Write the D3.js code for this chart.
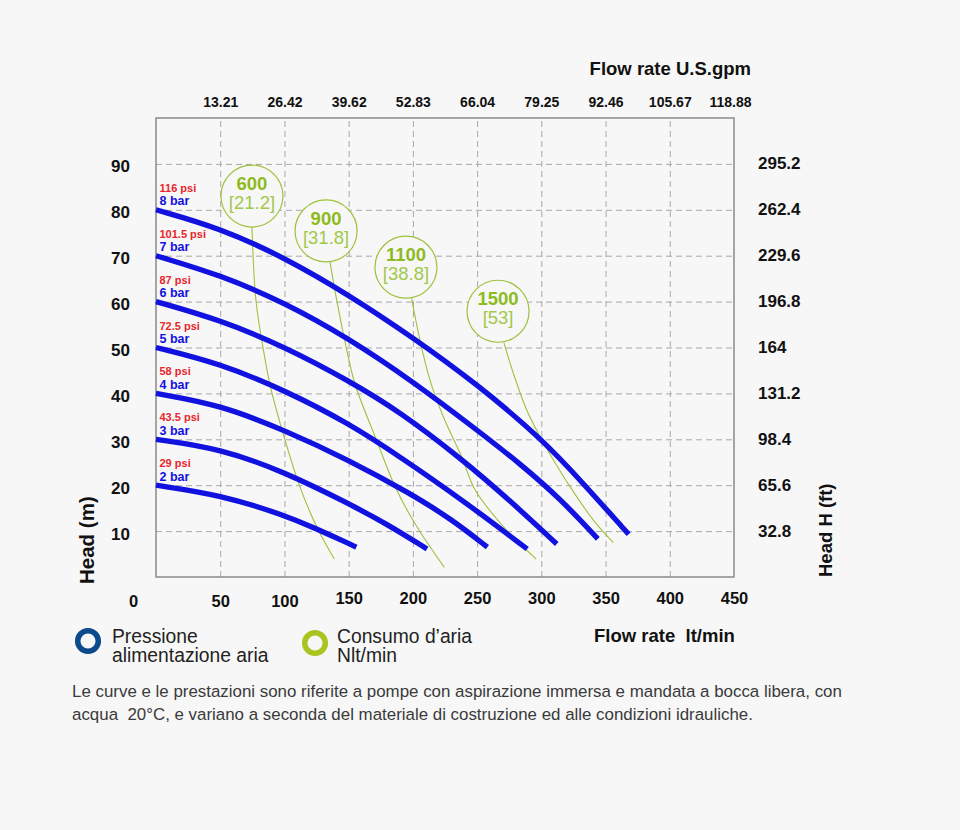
<!DOCTYPE html>
<html>
<head>
<meta charset="utf-8">
<script src="https://cdn.jsdelivr.net/npm/d3@7/dist/d3.min.js"></script>
<style>
  html, body { margin: 0; padding: 0; background: #f7f7f7; }
  svg { display: block; font-family: "Liberation Sans", Arial, Helvetica, sans-serif; }
</style>
</head>
<body>
<svg id="chart" width="960" height="830"></svg>
<script>
// ---------- DATA ----------
const flowTicks = [0, 50, 100, 150, 200, 250, 300, 350, 400, 450];          // lt/min
const gpmTicks = [50, 100, 150, 200, 250, 300, 350, 400, 450];
const gpmLabels = ["13.21", "26.42", "39.62", "52.83", "66.04", "79.25", "92.46", "105.67", "118.88"];
const headTicks = [10, 20, 30, 40, 50, 60, 70, 80, 90];                       // m
const ftLabels = ["32.8", "65.6", "98.4", "131.2", "164", "196.8", "229.6", "262.4", "295.2"];

// Pressure curves [flow lt/min, head m]
const bar8 = [[0,80],[50,76],[100,69.6],[150,61.5],[200,52.2],[250,42],[300,30.2],[333,20.3],[368,9.3]];
const bar7 = [[0,70],[50,65.8],[100,59.8],[150,52],[200,42.6],[250,32],[283,24.8],[315,17],[344,8.3]];
const bar6 = [[0,60],[50,56],[100,50.2],[150,42.8],[190,36],[239,25.5],[275,16.8],[312,7.2]];
const bar5 = [[0,50],[50,46.5],[100,40.7],[150,33.5],[190,26.2],[240,16.5],[289,6.1]];
const bar4 = [[0,40],[50,37.5],[100,32],[150,25.5],[198,18.2],[230,12.6],[258,6.5]];
const bar3 = [[0,30],[50,28],[100,22.9],[150,16],[180,11.5],[211,6.1]];
const bar2 = [[0,20],[50,17.9],[100,13.5],[125,10.5],[150,7.3],[156,6.5]];
const barLabels = ["8 bar", "7 bar", "6 bar", "5 bar", "4 bar", "3 bar", "2 bar"];
const psiLabels = ["116 psi", "101.5 psi", "87 psi", "72.5 psi", "58 psi", "43.5 psi", "29 psi"];
const pressureCurves = [bar8, bar7, bar6, bar5, bar4, bar3, bar2];

// Air consumption lines [flow, head]
const air600  = [[74.7,76.2],[77.8,60.3],[83.6,49.5],[89.5,41],[100.5,29.8],[112,19.7],[125,11],[138.8,3.9]];
const air900  = [[135.5,68.6],[140.7,60.3],[148.5,49.5],[155,42],[171.7,29.8],[187.3,19],[203,11],[224.5,2.1]];
const air1100 = [[199,60.7],[205.5,51.6],[213.3,42.9],[223.7,34.9],[238,26.2],[248.4,19],[270.4,11],[296,3.9]];
const air1500 = [[270.9,51],[278.2,44.4],[288.6,36.4],[299,30.6],[309.4,25.5],[322.3,19.7],[340.5,12.4],[356,7.5]];
const airLines = [air600, air900, air1100, air1500];
const airNl = ["600", "900", "1100", "1500"];
const airScfm = ["[21.2]", "[31.8]", "[38.8]", "[53]"];
const airBubbleCenters = [[74.7, 83.0], [132.4, 75.4], [194.6, 67.5], [266.3, 57.9]];

// ---------- LAYOUT ----------
const svg = d3.select("#chart");
const x = d3.scaleLinear().domain([0, 450]).range([156, 734]);
const y = d3.scaleLinear().domain([0, 100]).range([577, 118]);

const BLUE = "#1212e0";
const RED = "#e8262b";
const GREEN = "#9dc23c";
const GREEN_TXT = "#8dbb1f";
const GREEN_TXT2 = "#a2c84a";
const FONT = '"Liberation Sans", Arial, Helvetica, sans-serif';

// background
svg.append("rect").attr("width", 960).attr("height", 830).attr("fill", "#f7f7f7");

// grid (via axes)
const gridX = svg.append("g").attr("transform", `translate(0,${y(0)})`)
  .call(d3.axisBottom(x).tickValues(flowTicks.filter(d => d > 0 && d < 450))
    .tickSize(-(y(0) - y(100))).tickFormat(""));
const gridY = svg.append("g").attr("transform", `translate(${x(0)},0)`)
  .call(d3.axisLeft(y).tickValues(headTicks).tickSize(-(x(450) - x(0))).tickFormat(""));
[gridX, gridY].forEach(g => {
  g.select(".domain").remove();
  g.selectAll(".tick line").attr("stroke", "#a8a8a8").attr("stroke-width", 1)
    .attr("stroke-dasharray", "6,4");
});

// frame
svg.append("rect").attr("x", x(0)).attr("y", y(100))
  .attr("width", x(450) - x(0)).attr("height", y(0) - y(100))
  .attr("fill", "none").attr("stroke", "#8a8a8a").attr("stroke-width", 1.5);

// ---------- AXES ----------
function styleAxis(g, size, anchor) {
  g.select(".domain").remove();
  g.selectAll(".tick line").remove();
  g.selectAll("text").attr("font-family", FONT).attr("font-weight", "bold")
    .attr("font-size", size).attr("fill", "#111").attr("text-anchor", anchor);
}

// left (m)
const axL = svg.append("g").attr("transform", "translate(130,0)")
  .call(d3.axisLeft(y).tickValues(headTicks).tickSize(0).tickPadding(0).tickFormat(d3.format("d")));
styleAxis(axL, 17, "end");
axL.selectAll("text").attr("dy", null).attr("y", 8);

// right (ft)
const axR = svg.append("g").attr("transform", "translate(758,0)")
  .call(d3.axisRight(y).tickValues(headTicks).tickSize(0).tickPadding(0)
    .tickFormat((d, i) => ftLabels[i]));
styleAxis(axR, 17, "start");
axR.selectAll("text").attr("dy", null).attr("y", 5);

// top (gpm)
const axT = svg.append("g").attr("transform", "translate(0,107)")
  .call(d3.axisTop(x).tickValues(gpmTicks).tickSize(0).tickPadding(0)
    .tickFormat((d, i) => gpmLabels[i]));
styleAxis(axT, 14, "middle");
axT.selectAll("text").attr("dy", null).attr("y", 0)
  .attr("x", d => d === 450 ? -4 : 0);

// bottom (lt/min)
const axB = svg.append("g").attr("transform", "translate(0,605)")
  .call(d3.axisBottom(x).tickValues(flowTicks).tickSize(0).tickPadding(0).tickFormat(d3.format("d")));
styleAxis(axB, 16.5, "middle");
axB.selectAll("text").attr("dy", null).attr("y", d => d <= 100 ? 1.5 : -1)
  .attr("x", d => d === 0 ? -23 : 0);

// axis titles
svg.append("text").attr("x", 751).attr("y", 75).attr("text-anchor", "end")
  .attr("font-family", FONT).attr("font-weight", "bold").attr("font-size", 18.5).attr("fill", "#111")
  .text("Flow rate U.S.gpm");
svg.append("text").attr("x", 594).attr("y", 642).attr("xml:space", "preserve")
  .attr("font-family", FONT).attr("font-weight", "bold").attr("font-size", 18.5).attr("fill", "#111")
  .text("Flow rate  lt/min");
svg.append("text").attr("transform", "translate(94,584) rotate(-90)")
  .attr("font-family", FONT).attr("font-weight", "bold").attr("font-size", 20.5).attr("fill", "#111")
  .text("Head (m)");
svg.append("text").attr("transform", "translate(832,577) rotate(-90)")
  .attr("font-family", FONT).attr("font-weight", "bold").attr("font-size", 18.5).attr("fill", "#111")
  .text("Head H (ft)");

// ---------- AIR CONSUMPTION LINES ----------
const airGen = d3.line().x(d => x(d[0])).y(d => y(d[1])).curve(d3.curveCatmullRom.alpha(0.5));
svg.append("g").selectAll("path").data(airLines).join("path")
  .attr("d", airGen).attr("fill", "none").attr("stroke", GREEN).attr("stroke-width", 1.1);

// ---------- PRESSURE CURVES ----------
const curveGen = d3.line().x(d => x(d[0])).y(d => y(d[1])).curve(d3.curveBasis);
svg.append("g").selectAll("path").data(pressureCurves).join("path")
  .attr("d", curveGen).attr("fill", "none").attr("stroke", BLUE).attr("stroke-width", 5.3)
  .attr("stroke-linecap", "butt");

const lbl = svg.append("g");
pressureCurves.forEach((c, i) => {
  const yy = y(c[0][1]);
  lbl.append("text").attr("x", x(0) + 3.5).attr("y", yy - 18)
    .attr("font-family", FONT).attr("font-weight", "bold").attr("font-size", 11).attr("fill", RED)
    .text(psiLabels[i]);
  lbl.append("text").attr("x", x(0) + 3.5).attr("y", yy - 4.5)
    .attr("font-family", FONT).attr("font-weight", "bold").attr("font-size", 12.5).attr("fill", BLUE)
    .text(barLabels[i]);
});

// ---------- AIR BUBBLES ----------
const bub = svg.append("g").selectAll("g").data(airBubbleCenters).join("g")
  .attr("transform", d => `translate(${x(d[0])},${y(d[1])})`);
bub.append("circle").attr("r", 31).attr("fill", "#f7f7f7").attr("stroke", GREEN).attr("stroke-width", 1.2);
bub.append("text").attr("y", -6).attr("text-anchor", "middle")
  .attr("font-family", FONT).attr("font-weight", "bold").attr("font-size", 18.5).attr("fill", GREEN_TXT)
  .text((d, i) => airNl[i]);
bub.append("text").attr("y", 13).attr("text-anchor", "middle")
  .attr("font-family", FONT).attr("font-size", 18.5).attr("fill", GREEN_TXT2)
  .text((d, i) => airScfm[i]);

// ---------- LEGEND ----------
svg.append("circle").attr("cx", 88).attr("cy", 641).attr("r", 10.3)
  .attr("fill", "none").attr("stroke", "#0c4a8c").attr("stroke-width", 5.5);
svg.append("circle").attr("cx", 315).attr("cy", 643).attr("r", 10.3)
  .attr("fill", "none").attr("stroke", "#a9c520").attr("stroke-width", 5.5);
const legTxt = [["Pressione", 112, 643], ["alimentazione aria", 112, 662],
                ["Consumo d’aria", 337, 643], ["Nlt/min", 337, 662]];
svg.append("g").selectAll("text").data(legTxt).join("text")
  .attr("x", d => d[1]).attr("y", d => d[2])
  .attr("font-family", FONT).attr("font-size", 19.3).attr("fill", "#222")
  .text(d => d[0]);

// ---------- FOOTNOTE ----------
const notes = ["Le curve e le prestazioni sono riferite a pompe con aspirazione immersa e mandata a bocca libera, con",
               "acqua  20°C, e variano a seconda del materiale di costruzione ed alle condizioni idrauliche."];
svg.append("g").selectAll("text").data(notes).join("text")
  .attr("x", 72).attr("y", (d, i) => 697 + i * 23).attr("xml:space", "preserve")
  .attr("font-family", FONT).attr("font-size", 16.9).attr("fill", "#3a3a3a")
  .text(d => d);
</script>
</body>
</html>
